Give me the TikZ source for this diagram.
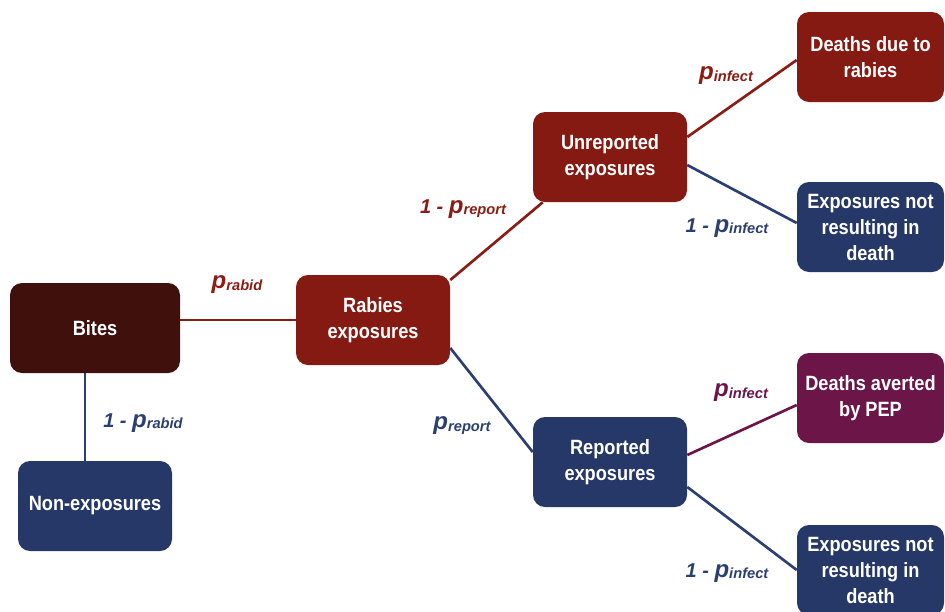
\documentclass[tikz,border=0pt]{standalone}
\usepackage{fontspec}
\setmainfont{Liberation Sans}
\newfontfamily\boxfont{Liberation Sans}[FakeStretch=0.88]
\newfontfamily\labfont{Liberation Sans}
\usetikzlibrary{calc}
\definecolor{bitescol}{HTML}{3F100C}
\definecolor{redcol}{HTML}{851A13}
\definecolor{navycol}{HTML}{263868}
\definecolor{purpcol}{HTML}{6C1549}
\definecolor{redline}{HTML}{8A1C14}
\definecolor{navyline}{HTML}{2B3F73}
\newcommand{\plab}[2]{{\labfont\bfseries\itshape\fontsize{15}{18}\selectfont #1{\fontsize{18}{20}\selectfont p}\raisebox{-1pt}{\fontsize{11}{13}\selectfont #2}}}
\begin{document}
\begin{tikzpicture}[x=0.75pt,y=-0.75pt,
  box/.style={rounded corners=9pt, inner sep=0pt, minimum height=67.5pt,
    text=white, align=center, font=\boxfont\bfseries\fontsize{15.5}{19.5}\selectfont},
  wide/.style={minimum width=115.5pt},
  edge/.style={line width=2pt},
  lab/.style={inner sep=0pt, anchor=center}]
\useasboundingbox (0,0) rectangle (945,611);
\clip (0,0) rectangle (945,611);
% nodes
\node[box, fill=bitescol, minimum width=127.5pt] (bites) at (95,328) {Bites};
\node[box, wide, fill=navycol] (nonexp) at (95,506) {Non-exposures};
\node[box, wide, fill=redcol] (rab) at (373,320) {Rabies\\exposures};
\node[box, wide, fill=redcol] (unrep) at (610,157) {Unreported\\exposures};
\node[box, wide, fill=navycol] (rep) at (610,462) {Reported\\exposures};
\node[box, fill=redcol, minimum width=110.25pt] (deaths) at (870.5,57) {Deaths due to\\rabies};
\node[box, fill=navycol, minimum width=110.25pt] (expA) at (870.5,227) {Exposures not\\resulting in\\death};
\node[box, fill=purpcol, minimum width=110.25pt] (averted) at (870.5,398) {Deaths averted\\by PEP};
\node[box, fill=navycol, minimum width=110.25pt] (expB) at (870.5,570) {Exposures not\\resulting in\\death};
% connectors
\draw[edge, redline] (rab.west) -- (rab.west -| bites.east);
\draw[edge, navyline] ($(bites.south)+(-10,0)$) -- ($(nonexp.north)+(-10,0)$);
\draw[edge, redline] ($(rab.east)+(0,-40)$) -- ($(unrep.south west)+(10,0)$);
\draw[edge, navyline] ($(rab.east)+(0,28)$) -- ($(rep.west)+(0,-10)$);
\draw[edge, redline] ($(unrep.east)+(0,-20)$) -- ($(deaths.west)+(0,3)$);
\draw[edge, navyline] ($(unrep.east)+(0,8)$) -- ($(expA.west)+(0,-4)$);
\draw[edge, purpcol] ($(rep.east)+(0,-7)$) -- ($(averted.west)+(0,7)$);
\draw[edge, navyline] ($(rep.east)+(0,25)$) -- (expB.west);
% labels
\node[lab, text=redline] (l1) at (237,285) {\plab{}{rabid}};
\node[lab, text=navyline] (l2) at (143,423) {\plab{1 - }{rabid}};
\node[lab, text=redline] (l3) at (463,209) {\plab{1 - }{report}};
\node[lab, text=navyline] (l4) at (462,426) {\plab{}{report}};
\node[lab, text=redline] (l5) at (726,76) {\plab{}{infect}};
\node[lab, text=navyline] (l6) at (727,228) {\plab{1 - }{infect}};
\node[lab, text=purpcol] (l7) at (741,393) {\plab{}{infect}};
\node[lab, text=navyline] (l8) at (727,573) {\plab{1 - }{infect}};
\end{tikzpicture}
\end{document}
